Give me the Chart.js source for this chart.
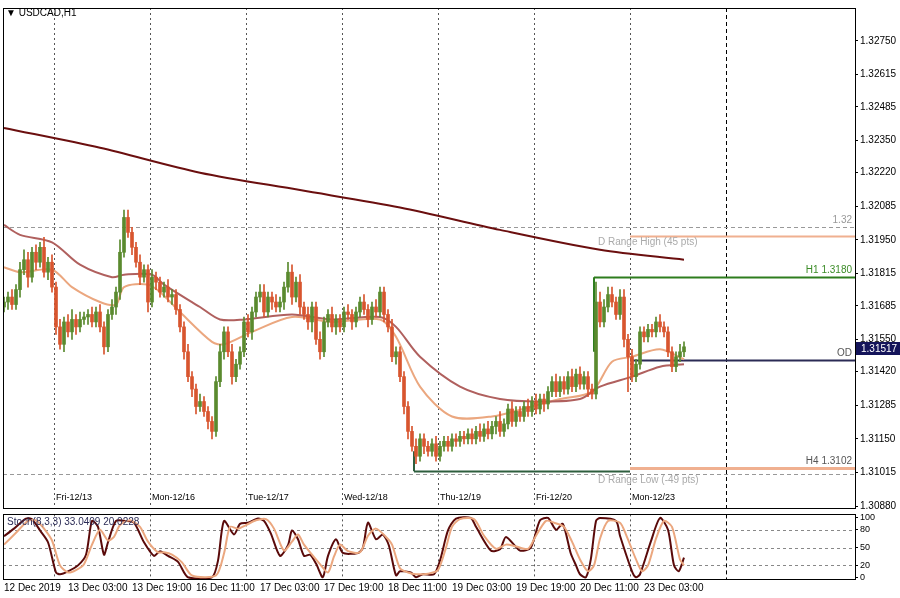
<!DOCTYPE html>
<html><head><meta charset="utf-8">
<script src="https://cdn.jsdelivr.net/npm/chart.js@4.4.1/dist/chart.umd.min.js"></script>
<style>
html,body{margin:0;padding:0;background:#fff;width:900px;height:598px;overflow:hidden;font-family:"Liberation Sans",sans-serif}
#c1{position:absolute;left:0;top:0}
#c2{position:absolute;left:0;top:507px}
#t{position:absolute;left:6px;top:7px;font-size:10px;color:#000}
</style></head><body>
<canvas id="c1" width="900" height="516"></canvas>
<canvas id="c2" width="900" height="91"></canvas>
<div id="t">&#9660; USDCAD,H1</div>
<script>
// ---- data ----
const firstOpen = 1.3168;
const closes = [
1.3170,1.3172,1.3169,1.3175,1.3183,1.3187,1.3180,1.3190,1.3186,1.3192,
1.3182,1.3186,1.3176,1.3160,1.3153,1.3162,1.3158,1.3163,1.3160,1.3163,
1.3164,1.3165,1.3162,1.3166,1.3160,1.3152,1.3165,1.3168,1.3174,1.3190,
1.3204,1.3198,1.3192,1.3186,1.3180,1.3183,1.3170,1.3180,1.3178,1.3174,
1.3176,1.3172,1.3173,1.3167,1.3160,1.3150,1.3140,1.3135,1.3128,1.3130,
1.3126,1.3122,1.3118,1.3138,1.3150,1.3158,1.3150,1.3140,1.3145,1.3150,
1.3162,1.3158,1.3166,1.3172,1.3174,1.3166,1.3172,1.3170,1.3168,1.3170,
1.3176,1.3182,1.3172,1.3178,1.3168,1.3165,1.3162,1.3168,1.3155,1.3150,
1.3162,1.3165,1.3160,1.3163,1.3160,1.3166,1.3165,1.3162,1.3166,1.3170,
1.3167,1.3163,1.3168,1.3166,1.3174,1.3165,1.3160,1.3148,1.3150,1.3140,
1.3128,1.3118,1.3112,1.3108,1.3115,1.3112,1.3110,1.3113,1.3108,1.3112,
1.3114,1.3112,1.3115,1.3114,1.3116,1.3115,1.3117,1.3115,1.3118,1.3116,
1.3119,1.3117,1.3120,1.3122,1.3118,1.3121,1.3127,1.3122,1.3126,1.3124,
1.3128,1.3126,1.3130,1.3127,1.3131,1.3129,1.3134,1.3138,1.3134,1.3138,
1.3135,1.3140,1.3136,1.3141,1.3137,1.3140,1.3135,1.3133,1.3170,1.3162,
1.3168,1.3173,1.3170,1.3165,1.3172,1.3155,1.3148,1.3140,1.3145,1.3158,
1.3156,1.3159,1.3158,1.3162,1.3160,1.3158,1.3150,1.3144,1.3148,1.3150,
1.3152];
// wick extensions in 0.0001 units
const wickHi = [
2,2,3,2,3,4,3,2,3,2, 4,2,3,2,3,2,3,4,2,3, 2,2,3,2,3,2,2,3,2,5,
3,3,2,2,3,2,2,3,2,2, 2,3,2,2,2,2,3,2,2,3, 2,2,2,2,3,2,2,3,2,2,
2,3,2,2,3,3,2,2,3,2, 2,4,3,2,3,2,3,2,2,3, 2,2,3,2,2,2,3,2,2,2,
3,2,2,3,2,2,2,3,2,2, 2,2,2,3,2,2,2,2,3,2, 2,2,2,2,2,2,2,2,2,3,
2,3,2,2,4,2,2,3,2,2, 2,3,2,3,2,2,2,2,3,2, 2,2,3,2,3,2,2,2,8,4,
3,3,3,2,3,3,2,3,2,2, 2,2,2,2,3,2,2,2,2,3, 2];
const wickLo = [
2,3,2,2,3,2,4,2,3,2, 2,3,2,3,2,3,2,3,3,2, 2,3,2,2,2,3,2,2,3,3,
2,2,3,2,3,2,4,2,3,2, 2,2,3,2,2,3,2,3,3,2, 2,3,3,2,2,3,2,3,2,2,
2,2,3,2,2,2,2,3,2,2, 3,2,3,2,3,2,3,4,2,3, 2,2,2,3,2,2,2,3,2,2,
2,3,2,2,2,3,2,2,3,2, 3,3,2,3,2,3,2,2,2,2, 2,2,2,2,2,2,2,2,2,2,
2,2,2,3,2,2,2,2,2,2, 2,2,2,2,2,3,2,2,2,2, 2,2,2,2,2,2,3,2,2,2,
2,2,2,2,2,3,14,2,2,2, 2,2,2,2,2,2,2,2,2,2, 2];
const maSlow = [[0,1.3240],[24,1.3232],[49,1.3222],[74,1.3215],[99,1.3208],[124,1.3199],[149,1.3191],[170,1.3187]];
const maMid = [[0,1.3201],[4,1.3197],[12,1.3194],[19,1.3185],[27,1.3180],[30,1.3181],[37,1.3181],[40,1.3177],[49,1.3168],[54,1.3163],[60,1.3163],[72,1.3165],[82,1.3163],[94,1.3164],[98,1.3160],[104,1.3148],[114,1.3136],[124,1.3131],[134,1.3130],[144,1.3131],[149,1.3136],[157,1.3140],[164,1.3144],[170,1.3145]];
const maFast = [[0,1.3184],[4,1.3182],[12,1.3183],[17,1.3176],[24,1.3170],[28,1.3169],[30,1.3176],[36,1.3177],[39,1.3174],[44,1.3166],[52,1.3154],[55,1.3153],[62,1.3158],[72,1.3164],[82,1.3162],[94,1.3163],[98,1.3156],[104,1.3136],[112,1.3124],[122,1.3124],[132,1.3128],[139,1.3131],[147,1.3134],[152,1.3146],[157,1.3148],[164,1.3151],[170,1.3147]];
const stochK = [[0,69],[2.5,82],[5.5,99],[7,98],[9,79],[11,59],[13,8],[14,5],[16,10],[18.5,20],[20.5,38],[22,95],[23.5,85],[25,38],[26,59],[28,95],[30.5,95],[32.5,92],[35,59],[37.5,36],[39,44],[41,36],[43.5,26],[46,0],[52,0],[53.5,28],[55,95],[57.5,72],[59,90],[61,92],[63.5,99],[65,95],[66.7,74],[69,36],[71,54],[72,79],[73.5,64],[75,36],[76.5,38],[78,23],[79.7,0],[81,36],[83,64],[84.7,41],[88.5,41],[89.7,49],[91,92],[93,64],[94.7,72],[96.2,54],[98,3],[99,10],[101.7,8],[103,0],[104.7,5],[107.5,5],[109,28],[111,79],[113,99],[116.7,100],[118,85],[121.7,45],[124,47],[125.5,68],[129,45],[131.7,50],[134,96],[136,100],[138,80],[139.7,90],[141.7,40],[143,20],[144,5],[145.5,0],[146.7,30],[148,95],[149,100],[153,95],[154,70],[157,10],[158,0],[159,5],[161.7,60],[164,100],[166,80],[167.5,20],[168.7,10],[170,33]];
const stochD = [[0,55],[3,75],[6,95],[8,96],[10,82],[12,62],[14,20],[16,8],[18,12],[20,22],[22,55],[24,80],[26,62],[27.5,68],[29,88],[31.5,96],[34,85],[36,60],[38.5,42],[40,42],[42,38],[44.5,25],[47,3],[53,3],[55,40],[56.5,85],[58.5,82],[60.5,88],[63,96],[65.5,98],[67.5,82],[70,45],[72,60],[73.5,72],[75,55],[77,38],[79,22],[81,8],[82.5,35],[84,55],[86,44],[89,42],[91,70],[93,82],[95.5,68],[97,55],[99,15],[101,8],[103,5],[106,6],[108.5,12],[110.5,50],[112,85],[114,98],[117.5,98],[120,70],[123,48],[125.5,55],[128,52],[131,48],[133,70],[135.5,95],[137.5,92],[140,85],[142,60],[144,30],[146,10],[147.5,20],[149,65],[151,95],[154,92],[155.5,72],[158,30],[159.5,10],[161,20],[163,65],[165,95],[167,85],[169,30],[170,20]];
const daySep = [13,37,61,85,109,133,157];
const dayLabels = ["Fri-12/13","Mon-12/16","Tue-12/17","Wed-12/18","Thu-12/19","Fri-12/20","Mon-12/23"];
const futureSep = 181;
const timeTicks = [0,16,32,48,64,80,96,112,128,144,160];
const timeLabels = ["12 Dec 2019","13 Dec 03:00","13 Dec 19:00","16 Dec 11:00","17 Dec 03:00","17 Dec 19:00","18 Dec 11:00","19 Dec 03:00","19 Dec 19:00","20 Dec 11:00","23 Dec 03:00"];
const priceTicks = [1.32750,1.32615,1.32485,1.32350,1.32220,1.32085,1.31950,1.31815,1.31685,1.31550,1.31420,1.31285,1.31150,1.31015,1.30880];
const stochTicks = [100,80,50,20,0];
const lastPrice = 1.31517;
// levels: [price, fromIndex, toIndex(null=edge), color, width, dash, label, labelPos, labelColor]
const levels = [
 [1.3200,null,null,'#999',1,[4,3],'1.32','right','#999'],
 [1.31966,157,null,'#f0b090',2,[],'D Range High (45 pts)','dr','#aaa'],
 [1.3180,148,null,'#2e7d1e',2,[],'H1 1.3180','right','#3c8c28'],
 [1.31467,157,null,'#2b2b55',2,[],'OD','right','#555'],
 [1.31032,157,null,'#f0b090',3,[],'H4 1.3102','right','#555'],
 [1.31020,103,157,'#2e5e3e',2,[],'','',''],
 [1.31008,null,null,'#999',1,[4,3],'D Range Low (-49 pts)','dr','#aaa']
];
const XMIN=-0.25, XMAX=212.75;
const green='#5a8a2e', red='#d8552e';
const FONT='Liberation Sans';

const opens = closes.map((c,i)=> i===0 ? firstOpen : closes[i-1]);
const wicks = closes.map((c,i)=>({x:i,y:[Math.min(opens[i],c)-wickLo[i]/10000, Math.max(opens[i],c)+wickHi[i]/10000]}));
const bodies = closes.map((c,i)=>({x:i,y:[opens[i],c]}));
const cols = closes.map((c,i)=> c>=opens[i]?green:red);
const pts = a=>a.map(p=>({x:p[0],y:p[1]}));

function fmtAxisWidth(s){ s.width=45; }
const sepPlugin = {
 id:'sep',
 beforeDatasetsDraw(ch){
  const {ctx,chartArea:a,scales:{x}}=ch;
  ctx.save();
  ctx.strokeStyle='#555';ctx.lineWidth=1;ctx.setLineDash([2,3]);
  daySep.forEach(d=>{const px=Math.round(x.getPixelForValue(d-0.5))+0.5;ctx.beginPath();ctx.moveTo(px,a.top);ctx.lineTo(px,a.bottom);ctx.stroke();});
  ctx.strokeStyle='#000';ctx.setLineDash([4,3]);
  const fx=Math.round(x.getPixelForValue(futureSep-0.5))+0.5;ctx.beginPath();ctx.moveTo(fx,a.top);ctx.lineTo(fx,a.bottom);ctx.stroke();
  ctx.restore();
 },
 afterDraw(ch){
  const {ctx,chartArea:a}=ch;
  ctx.save();ctx.strokeStyle='#000';ctx.lineWidth=1;
  ctx.strokeRect(Math.round(a.left)+0.5,Math.round(a.top)+0.5,Math.round(a.width),Math.round(a.height));
  ctx.restore();
 }
};
const mainPlugin = {
 id:'main',
 beforeDatasetsDraw(ch){
  const {ctx,chartArea:a,scales:{x,y}}=ch;
  ctx.save();
  ctx.font='10px "'+FONT+'"';
  levels.forEach(l=>{
   const py=Math.round(y.getPixelForValue(l[0]))+0.5;
   const x0=l[1]==null?a.left:x.getPixelForValue(l[1]-0.5);
   const x1=l[2]==null?a.right:x.getPixelForValue(l[2]-0.5);
   ctx.strokeStyle=l[3];ctx.lineWidth=l[4];ctx.setLineDash(l[5]);
   ctx.beginPath();ctx.moveTo(x0,py);ctx.lineTo(x1,py);ctx.stroke();
   if(l[6]){
    ctx.setLineDash([]);ctx.fillStyle=l[8];
    if(l[7]==='right'){ctx.textAlign='right';ctx.textBaseline='bottom';ctx.fillText(l[6],a.right-3,py-2);}
    else{ctx.textAlign='left';ctx.textBaseline='top';ctx.fillText(l[6],x.getPixelForValue(148)+2,py+1);}
   }
  });
  ctx.setLineDash([]);ctx.strokeStyle='#2e5e3e';ctx.lineWidth=2;
  const vx=x.getPixelForValue(102.5);ctx.beginPath();ctx.moveTo(vx,y.getPixelForValue(1.3102));ctx.lineTo(vx,y.getPixelForValue(1.3110));ctx.stroke();
  ctx.strokeStyle='#2e7d1e';const hx=x.getPixelForValue(147.5);ctx.beginPath();ctx.moveTo(hx,y.getPixelForValue(1.3180));ctx.lineTo(hx,y.getPixelForValue(1.3150));ctx.stroke();
  ctx.fillStyle='#000';ctx.font='9px "'+FONT+'"';ctx.textAlign='left';ctx.textBaseline='middle';
  daySep.forEach((d,i)=>ctx.fillText(dayLabels[i],x.getPixelForValue(d-0.5)+2,a.bottom-10));
  ctx.restore();
 },
 afterDraw(ch){
  const {ctx,chartArea:a,scales:{y}}=ch;
  const py=Math.round(y.getPixelForValue(lastPrice));
  ctx.save();ctx.fillStyle='#14145a';ctx.fillRect(a.right+1,py-6,44,13);
  ctx.fillStyle='#fff';ctx.font='10px "'+FONT+'"';ctx.textBaseline='middle';ctx.textAlign='left';ctx.fillText(lastPrice.toFixed(5),a.right+6,py+1);
  ctx.restore();
 }
};

new Chart(document.getElementById('c1'),{
 type:'bar',
 data:{datasets:[
  {type:'line',data:pts(maSlow),borderColor:'#6b0f0f',borderWidth:2,pointRadius:0,tension:0.3,order:3},
  {type:'line',data:pts(maMid),borderColor:'#b0605e',borderWidth:2,pointRadius:0,tension:0.3,order:3},
  {type:'line',data:pts(maFast),borderColor:'#eba77f',borderWidth:2,pointRadius:0,tension:0.3,order:3},
  {data:wicks,backgroundColor:cols,barThickness:1,grouped:false,order:2},
  {data:bodies,backgroundColor:cols,barThickness:3,minBarLength:1,grouped:false,order:1}
 ]},
 options:{
  responsive:false,animation:false,devicePixelRatio:1,
  layout:{padding:{left:3,top:1,bottom:0,right:0}},
  plugins:{legend:{display:false},tooltip:{enabled:false}},
  scales:{
   x:{type:'linear',min:XMIN,max:XMAX,display:false,offset:false,bounds:'data'},
   y:{position:'right',min:1.30872,max:1.32882,afterFit:fmtAxisWidth,
      afterBuildTicks(s){s.ticks=priceTicks.map(v=>({value:v}));},
      grid:{display:true,drawOnChartArea:false,drawTicks:true,tickLength:3,color:'#000'},border:{display:false},
      ticks:{callback:v=>v.toFixed(5),color:'#000',font:{size:10,family:FONT},padding:2}}
  }
 },
 plugins:[sepPlugin,mainPlugin]
});

const stochPlugin={
 id:'st',
 beforeDatasetsDraw(ch){
  const {ctx,chartArea:a,scales:{y}}=ch;
  ctx.save();ctx.strokeStyle='#888';ctx.setLineDash([3,3]);
  [80,50,20].forEach(v=>{const py=Math.round(y.getPixelForValue(v))+0.5;ctx.beginPath();ctx.moveTo(a.left,py);ctx.lineTo(a.right,py);ctx.stroke();});
  ctx.restore();
 },
 afterDatasetsDraw(ch){
  const {ctx,chartArea:a}=ch;
  ctx.save();ctx.fillStyle='#2b2b55';ctx.font='10px "'+FONT+'"';ctx.textBaseline='top';
  ctx.fillText('Stoch(8,3,3) 33.0409 20.0228',a.left+4,a.top+3);ctx.restore();
 }
};
new Chart(document.getElementById('c2'),{
 type:'line',
 data:{datasets:[
  {data:pts(stochD),borderColor:'#eba77f',borderWidth:2,pointRadius:0,tension:0.25},
  {data:pts(stochK),borderColor:'#5a0a0a',borderWidth:2,pointRadius:0,tension:0.25}
 ]},
 options:{
  responsive:false,animation:false,devicePixelRatio:1,
  layout:{padding:{left:3,top:0,bottom:1,right:0}},
  plugins:{legend:{display:false},tooltip:{enabled:false}},
  scales:{
   x:{type:'linear',min:XMIN,max:XMAX,offset:false,
      afterBuildTicks(s){s.ticks=timeTicks.map(v=>({value:v}));},
      grid:{display:false,drawOnChartArea:false,drawTicks:false},border:{display:false},
      ticks:{callback:v=>timeLabels[timeTicks.indexOf(v)],color:'#000',font:{size:10,family:FONT},maxRotation:0,autoSkip:false,align:'start',padding:3}},
   y:{position:'right',min:-3,max:106,afterFit:fmtAxisWidth,
      afterBuildTicks(s){s.ticks=stochTicks.map(v=>({value:v}));},
      grid:{display:true,drawOnChartArea:false,tickLength:3,color:'#000'},border:{display:false},
      ticks:{color:'#000',font:{size:9,family:FONT},padding:2}}
  }
 },
 plugins:[sepPlugin,stochPlugin]
});
</script></body></html>
